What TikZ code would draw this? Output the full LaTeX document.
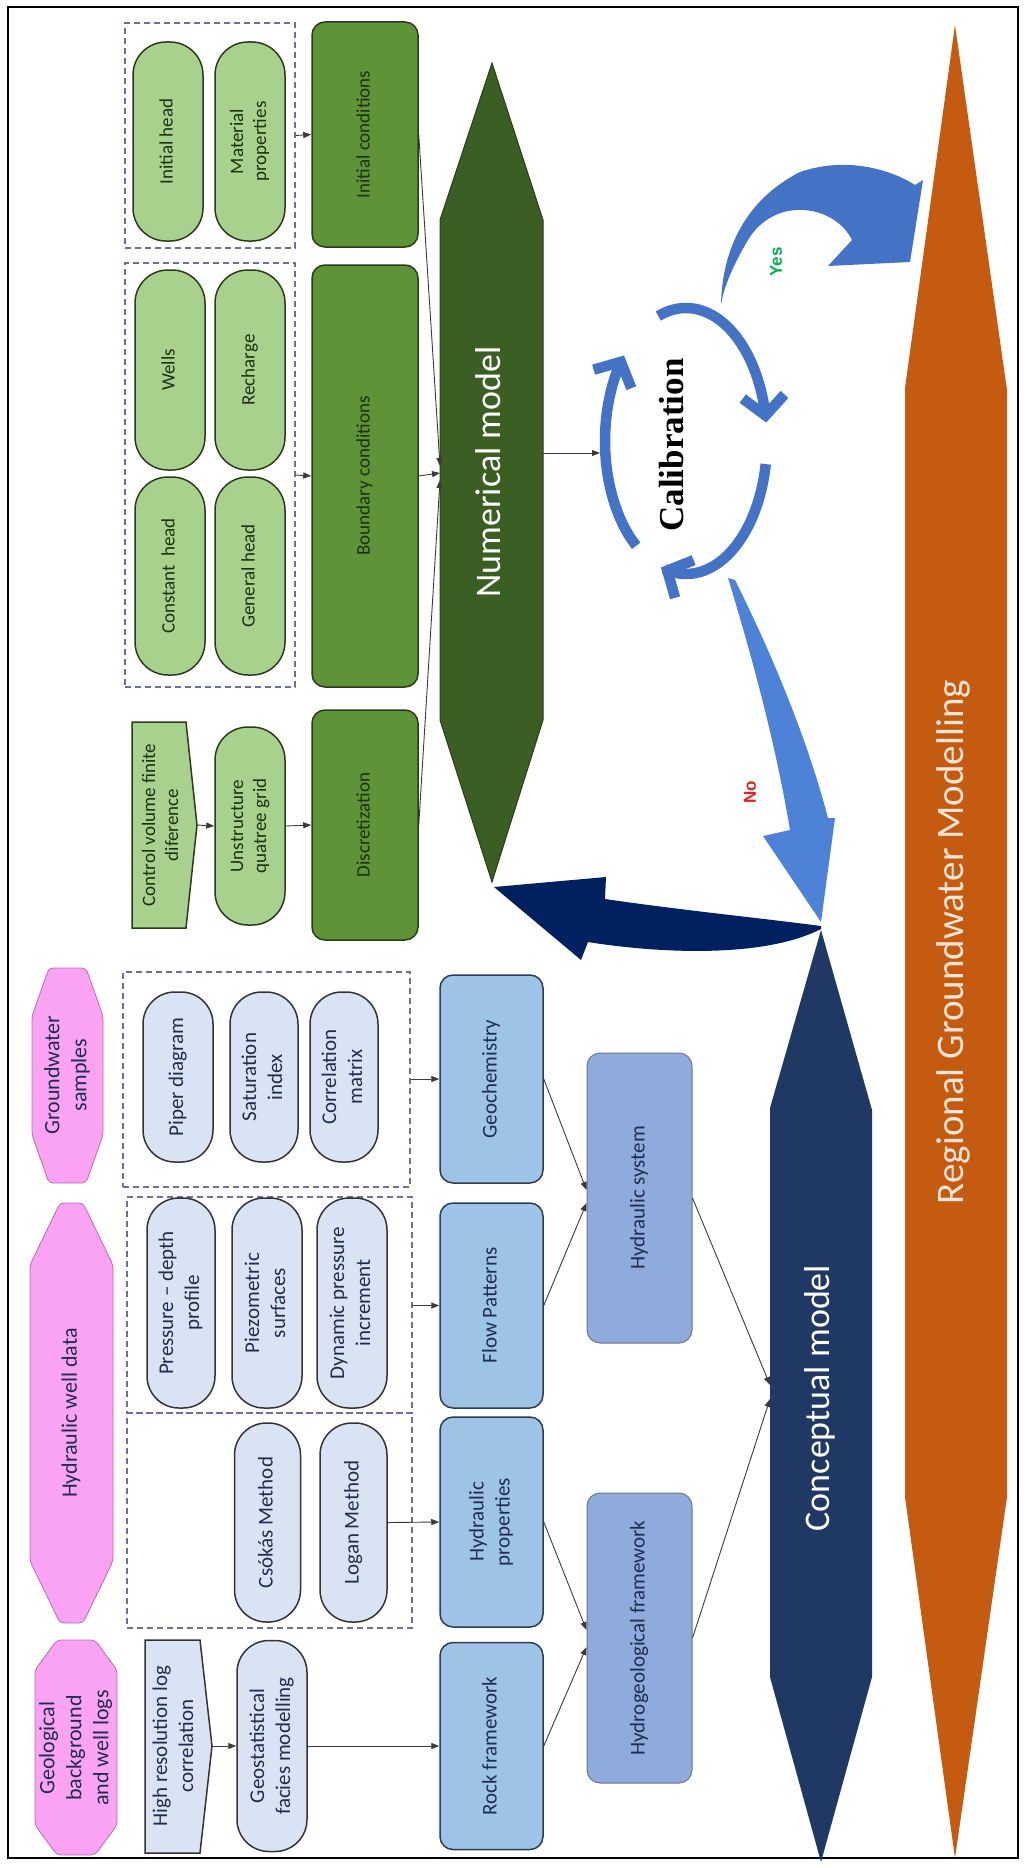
\documentclass[tikz,border=0pt]{standalone}
\usepackage{fontspec}
\setmainfont{Carlito}
\newfontfamily\calfont{Liberation Serif}
\newfontfamily\ynfont{Liberation Sans}
\usepackage{graphicx}
\usetikzlibrary{arrows.meta}
\newcommand{\rt}[1]{\rotatebox{90}{\begin{tabular}{@{}c@{}}#1\end{tabular}}}
\newcommand{\gfnt}{\fontsize{19}{23}\selectfont}
\newcommand{\bfnt}{\fontsize{21}{26}\selectfont}
\newcommand{\pfnt}{\fontsize{22}{27}\selectfont}
\newcommand{\bigfnt}{\fontsize{36}{40}\selectfont}
\definecolor{lgreen}{HTML}{A9D18E}
\definecolor{mgreen}{HTML}{5E9337}
\definecolor{dgreen}{HTML}{3B5E22}
\definecolor{gline}{HTML}{2C3B1C}
\definecolor{gtext}{HTML}{1E3010}
\definecolor{lblue}{HTML}{DAE3F3}
\definecolor{mblue}{HTML}{9DC3E6}
\definecolor{sblue}{HTML}{8FAADC}
\definecolor{bline}{HTML}{2E3B52}
\definecolor{btext}{HTML}{1F2D4F}
\definecolor{navy}{HTML}{1F3864}
\definecolor{dnavy}{HTML}{002060}
\definecolor{orng}{HTML}{C55A11}
\definecolor{peach}{HTML}{FBE5D6}
\definecolor{pinkf}{HTML}{FBA3F3}
\definecolor{pinkd}{HTML}{B86AB8}
\definecolor{calblue}{HTML}{4472C4}
\definecolor{noblue}{HTML}{4D82D6}
\definecolor{dashc}{HTML}{6A7099}
\definecolor{conncol}{HTML}{3A3A3A}
\definecolor{yesgreen}{HTML}{00B050}
\definecolor{nored}{HTML}{E02020}
\begin{document}
\begin{tikzpicture}[x=1pt,y=-1pt,
  dashbox/.style={draw=dashc, line width=1.3pt, dash pattern=on 6pt off 4pt, inner sep=0pt},
  gpill/.style={draw=gline, line width=1.5pt, fill=lgreen, rounded corners=33pt, minimum width=70pt, text=gtext, font=\gfnt, inner sep=0pt},
  gbox/.style={draw=gline, line width=1.5pt, fill=mgreen, rounded corners=13pt, minimum width=106pt, text=gtext, font=\gfnt, inner sep=0pt},
  bpill/.style={draw=black!80, line width=1.5pt, fill=lblue, rounded corners=32pt, minimum width=68pt, text=btext, font=\bfnt, inner sep=0pt},
  bbox/.style={draw=bline, line width=1.5pt, fill=mblue, rounded corners=13pt, minimum width=103pt, text=btext, font=\bfnt, inner sep=0pt},
  sbox/.style={draw=bline!70, line width=1pt, fill=sblue, rounded corners=13pt, minimum width=105pt, minimum height=290pt, text=btext, font=\bfnt, inner sep=0pt},
  pinkshape/.style={fill=pinkf, draw=pinkd, line width=0.8pt, rounded corners=4pt},
  conn/.style={draw=conncol, line width=0.9pt, -{Triangle[length=8pt,width=6pt]}},
  calarc/.style={draw=calblue, line width=10.5pt, -{Straight Barb[length=19pt,width=42pt]}},
  bigtext/.style={text=white, font=\bigfnt, inner sep=0pt}]
\useasboundingbox (0,0) rectangle (1025,1868);
\draw[line width=1.2pt] (8,7) rectangle (1018,1858);

% ---------------- Numerical model branch ----------------
\node[dashbox, minimum width=170pt, minimum height=225pt] (dIC) at (210,135.5) {};
\node[gpill, minimum height=199pt] (ih) at (168,141.5) {\rt{Initial head}};
\node[gpill, minimum height=199pt] (mp) at (250,141.5) {\rt{Material\\properties}};
\node[gbox, minimum height=225pt] (ic) at (365,134.5) {\rt{Initial conditions}};

\node[dashbox, minimum width=170pt, minimum height=424pt] (dBC) at (210,475) {};
\node[gpill, minimum height=200pt] (wl) at (170,370) {\rt{Wells}};
\node[gpill, minimum height=200pt] (rc) at (250,370) {\rt{Recharge}};
\node[gpill, minimum height=198pt] (ch) at (170,576) {\rt{Constant\ \ head}};
\node[gpill, minimum height=198pt] (gh) at (250,576) {\rt{General head}};
\node[gbox, minimum height=422pt] (bc) at (365,476) {\rt{Boundary conditions}};

\filldraw[fill=lgreen, draw=gline, line width=1.5pt] (132,722) -- (186,722) -- (197,825) -- (186,928) -- (132,928) -- cycle;
\node[text=gtext, font=\gfnt] (cv) at (162,825) {\rt{Control volume finite\\diference}};
\coordinate (cvtip) at (197,825);
\node[gpill, minimum height=198pt] (uq) at (250,826) {\rt{Unstructure\\quatree grid}};
\node[gbox, minimum height=230pt] (disc) at (365,825) {\rt{Discretization}};

\filldraw[fill=dgreen, draw=gline, line width=1pt] (492,63) -- (543,220) -- (543,720) -- (492,882) -- (440,720) -- (440,220) -- cycle;
\node[bigtext] (nm) at (492,472) {\rt{Numerical model}};
\coordinate (nmA) at (440,466);
\coordinate (nmB) at (440,473);
\coordinate (nmC) at (440,480);
\coordinate (nmOut) at (543,453);

\draw[conn] (dIC.east) -- (ic.west);
\draw[conn] (dBC.east) -- (bc.west);
\draw[conn] (cvtip) -- (uq.west);
\draw[conn] (uq.east) -- (disc.west);
\draw[conn] (ic.east) -- (nmA);
\draw[conn] (bc.east) -- (nmB);
\draw[conn] (disc.east) -- (nmC);

% ---------------- Regional groundwater modelling ----------------
\fill[orng] (955,25) -- (1007,390) -- (1007,1497) -- (955,1858) -- (905,1497) -- (905,388) -- cycle;
\node[text=peach, font=\fontsize{39}{44}\selectfont, inner sep=0pt] (rgm) at (955,942) {\rt{Regional Groundwater Modelling}};

% ---------------- Calibration ----------------
\node[font=\calfont\fontsize{35}{40}\selectfont\bfseries, inner sep=0pt] (cal) at (675,445) {\rt{Calibration}};
\coordinate (calIn) at (600,453);
\draw[conn] (nmOut) -- (calIn);
\draw[calarc] plot[domain=232:140, samples=40, variable=\t] ({686+81*cos(\t)},{441-133*sin(\t)});
\draw[calarc] plot[domain=110:8, samples=40, variable=\t] ({686+81*cos(\t)},{441-133*sin(\t)});
\draw[calarc] plot[domain=-10:-108, samples=40, variable=\t] ({686+81*cos(\t)},{441-133*sin(\t)});

% Yes arrow
\fill[calblue] (721,305) .. controls (722,250) and (745,200) .. (800,172)
  .. controls (850,155) and (895,172) .. (915,185) -- (923,180) -- (910,262) -- (828,266) -- (852,240)
  .. controls (835,205) and (775,195) .. (748,240) .. controls (735,262) and (724,285) .. (721,305) -- cycle;
\node[text=yesgreen, font=\ynfont\fontsize{17}{19}\selectfont\bfseries, inner sep=0pt] (yes) at (778,262) {\rt{Yes}};

% No arrow
\fill[noblue] (728,578) -- (735,580) .. controls (765,640) and (805,730) .. (828,818) -- (835,818) -- (821,922) -- (763,836) -- (790,830)
  .. controls (775,740) and (750,650) .. (728,578) -- cycle;
\node[text=nored, font=\ynfont\fontsize{17}{19}\selectfont\bfseries, inner sep=0pt] (no) at (752,792) {\rt{No}};

% ---------------- Conceptual model ----------------
\fill[navy] (821,930) -- (872,1110) -- (872,1677) -- (821,1862) -- (770,1677) -- (770,1108) -- cycle;
\node[bigtext] (cm) at (821,1398) {\rt{Conceptual model}};
\coordinate (cIn1) at (770,1385);
\coordinate (cIn2) at (770,1399);

% Navy arrow back to numerical model
\fill[dnavy] (821,926) .. controls (760,918) and (680,910) .. (605,899) -- (606,877) -- (494,887) -- (581,960) -- (588,942)
  .. controls (650,952) and (760,960) .. (821,929) -- cycle;

% ---------------- Data sources (pink) ----------------
\filldraw[pinkshape] (49,968) -- (86,968) -- (103,1016) -- (103,1135) -- (86,1183) -- (49,1183) -- (32,1135) -- (32,1016) -- cycle;
\node[text=btext, font=\pfnt] (gws) at (67.5,1075) {\rt{Groundwater\\samples}};
\filldraw[pinkshape] (60,1203) -- (83,1203) -- (113,1265) -- (113,1561) -- (83,1623) -- (60,1623) -- (30,1561) -- (30,1265) -- cycle;
\node[text=btext, font=\pfnt] (hwd) at (71.5,1413) {\rt{Hydraulic well data}};
\filldraw[pinkshape] (57,1640) -- (95,1640) -- (117,1670) -- (117,1825) -- (95,1855) -- (57,1855) -- (35,1825) -- (35,1670) -- cycle;
\node[text=btext, font=\pfnt] (geo) at (76,1748) {\rt{Geological\\background\\and well logs}};

% ---------------- Dashed groups and methods ----------------
\node[dashbox, minimum width=287pt, minimum height=215pt] (dGW) at (266.5,1079.5) {};
\node[bpill, minimum height=170pt, minimum width=70pt] (piper) at (178,1077) {\rt{Piper diagram}};
\node[bpill, minimum height=170pt] (sat) at (264,1077) {\rt{Saturation\\index}};
\node[bpill, minimum height=170pt] (corr) at (344,1077) {\rt{Correlation\\matrix}};

\node[dashbox, minimum width=285pt, minimum height=216pt] (dHW1) at (269.5,1305) {};
\node[bpill, minimum height=210pt] (pdp) at (181,1303) {\rt{Pressure -- depth\\profile}};
\node[bpill, minimum height=210pt, minimum width=70pt] (piezo) at (267,1303) {\rt{Piezometric\\surfaces}};
\node[bpill, minimum height=210pt, minimum width=70pt] (dyn) at (352,1303) {\rt{Dynamic pressure\\increment}};

\node[dashbox, minimum width=285pt, minimum height=215pt] (dHW2) at (269.5,1520.5) {};
\node[bpill, minimum height=199pt, minimum width=66pt] (csok) at (267.5,1522.5) {\rt{Csókás Method}};
\node[bpill, minimum height=199pt, minimum width=67pt] (logan) at (353.5,1522.5) {\rt{Logan Method}};

\filldraw[fill=lblue, draw=black!80, line width=1.5pt] (145,1640) -- (200,1640) -- (212,1746) -- (200,1853) -- (145,1853) -- cycle;
\node[text=btext, font=\bfnt] (hrl) at (175,1746) {\rt{High resolution log\\correlation}};
\coordinate (hrltip) at (212,1746);
\node[bpill, minimum height=211pt, minimum width=70pt] (gfm) at (272,1746) {\rt{Geostatistical\\facies modelling}};

% ---------------- Blue boxes ----------------
\node[bbox, minimum height=208pt] (gchem) at (491.5,1079) {\rt{Geochemistry}};
\node[bbox, minimum height=205pt] (flow) at (491.5,1305.5) {\rt{Flow Patterns}};
\node[bbox, minimum height=210pt] (hprop) at (491.5,1522) {\rt{Hydraulic\\properties}};
\node[bbox, minimum height=207pt] (rock) at (491.5,1746) {\rt{Rock framework}};

\node[sbox] (hsys) at (639.5,1198) {\rt{Hydraulic system}};
\node[sbox] (hgf) at (639.5,1638) {\rt{Hydrogeological framework}};

% ---------------- Connectors (conceptual) ----------------
\draw[conn] (dGW.east |- gchem.west) -- (gchem.west);
\draw[conn] (dHW1.east |- flow.west) -- (flow.west);
\draw[conn] (logan.east) -- (hprop.west);
\draw[conn] (hrltip) -- (gfm.west);
\draw[conn] (gfm.east) -- (rock.west);
\draw[conn] (gchem.east) -- ([yshift=8pt]hsys.west);
\draw[conn] (flow.east) -- ([yshift=-5pt]hsys.west);
\draw[conn] (hprop.east) -- ([yshift=8pt]hgf.west);
\draw[conn] (rock.east) -- ([yshift=-9pt]hgf.west);
\draw[conn] (hsys.east) -- (cIn1);
\draw[conn] (hgf.east) -- (cIn2);
\end{tikzpicture}
\end{document}
